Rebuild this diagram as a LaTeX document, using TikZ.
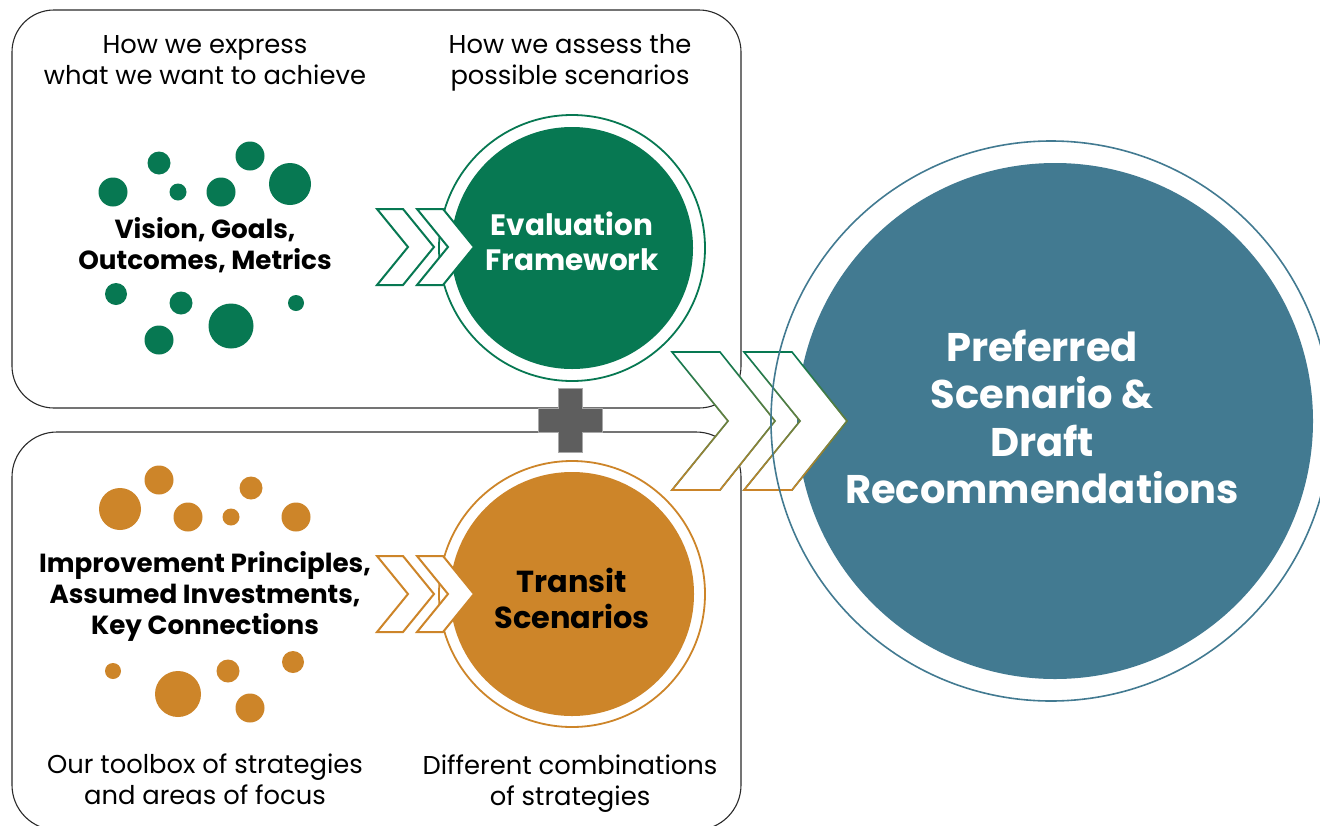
\documentclass[tikz,border=0pt]{standalone}
\usepackage{fontspec}
\setmainfont{Poppins}
\usetikzlibrary{fadings}
\definecolor{cgreen}{HTML}{077852}
\definecolor{corange}{HTML}{CD8529}
\definecolor{cblue}{HTML}{427A91}
\definecolor{plusgray}{HTML}{5E5E5E}
\definecolor{plusedge}{HTML}{A8A8A8}
\definecolor{boxcol}{HTML}{2A2A2A}
\tikzfading[name=fadeup, top color=transparent!100, bottom color=transparent!0]
\tikzset{
  boxline/.style={draw=boxcol, line width=1.1pt, fill=white},
  lighttext/.style={align=center, font=\fontsize{25.8}{31}\selectfont, text=black},
  boldtext/.style={align=center, font=\fontsize{26.2}{31}\selectfont\bfseries, text=black},
  smallchev/.pic={\path[pic actions] (0,-38) -- (26,-38) -- (57,0) -- (26,38) -- (0,38) -- (31,0) -- cycle;},
  bigchevshape/.pic={\path[pic actions] (0,-69) -- (48,-69) -- (103,0) -- (48,69) -- (0,69) -- (56,0) -- cycle;},
  chevgreen/.style={draw=cgreen, fill=white, line width=2pt, line join=miter},
  chevorange/.style={draw=corange, fill=white, line width=2pt, line join=miter},
}
\begin{document}
\begin{tikzpicture}[x=1pt,y=-1pt]
\useasboundingbox (0,0) rectangle (1320,825);
\clip (0,0) rectangle (1320,825);

% boxes
\draw[boxline, rounded corners=42pt] (12,10) rectangle (741,408);
\draw[boxline, rounded corners=45pt] (12,432) rectangle (741,830);

% green dots
\foreach \px/\py/\r in {113/192/14.5, 159/163/11.5, 178/192/8.5, 221/192/14.5, 250/156/14.5, 290/184/21,
  116/294/11, 181/303/11.5, 231/326/22.5, 159/340/14.5, 296/303/8}
  \fill[cgreen] (\px,\py) circle (\r pt);
% orange dots
\foreach \px/\py/\r in {120/509/21, 159/480/14.5, 188/517/14.5, 231/517/8.5, 251/488/11.5, 296/517/14.5,
  113/671/8, 178/694/23, 228/671/11.5, 250/708/14.5, 293/662/11}
  \fill[corange] (\px,\py) circle (\r pt);

% evaluation and transit circles
\node[circle, fill=cgreen, minimum size=242pt, inner sep=0pt] (evalc) at (572,248) {};
\draw[cgreen, line width=1.8pt] (evalc.center) circle (133pt);
\node[circle, fill=corange, minimum size=244pt, inner sep=0pt] (transc) at (572,594) {};
\draw[corange, line width=1.8pt] (transc.center) circle (133pt);

% small chevrons
\pic[chevgreen] at (377,247) {smallchev};
\pic[chevgreen] at (417,247) {smallchev};
\pic[chevorange] at (377,594) {smallchev};
\pic[chevorange] at (417,594) {smallchev};

% preferred circle
\node[circle, fill=cblue, minimum size=516pt, inner sep=0pt] (prefc) at (1055,421) {};

% big chevrons (green to orange stroke)
\foreach \cx in {672,744}{
  \pic[fill=white, draw=none] at (\cx,421) {bigchevshape};
  \pic[draw=cgreen, line width=1.6pt, line join=miter] at (\cx,421) {bigchevshape};
  \pic[draw=corange, line width=1.6pt, line join=miter, path fading=fadeup] at (\cx,421) {bigchevshape};
}
\draw[cblue, line width=1.6pt] (1051,421) circle (280pt);

% plus sign
\fill[plusgray, draw=plusedge, line width=0.8pt] (558,388) -- (582,388) -- (582,408) -- (602,408) -- (602,432)
  -- (582,432) -- (582,452) -- (558,452) -- (558,432) -- (538,432) -- (538,408) -- (558,408) -- cycle;

% texts
\node[lighttext] (texpress) at (205,60.5) {How we express\\what we want to achieve};
\node[lighttext] (tassess) at (570,63) {How we assess the\\possible scenarios};
\node[boldtext] (tvision) at (205,245) {Vision, Goals,\\Outcomes, Metrics};
\node[boldtext] (timprove) at (205,596.5) {Improvement Principles,\\Assumed Investments,\\Key Connections};
\node[lighttext] (ttoolbox) at (205,779.5) {Our toolbox of strategies\\and areas of focus};
\node[lighttext] (tcomb) at (570,784) {Different combinations\\of strategies};
\node[align=center, text=white, font=\fontsize{29.5}{35}\selectfont\bfseries] (teval) at (572,241) {Evaluation\\Framework};
\node[align=center, text=black, font=\fontsize{30.4}{36}\selectfont\bfseries] (ttrans) at (572,598) {Transit\\Scenarios};
\node[align=center, text=white, font=\fontsize{40}{47.4}\selectfont\bfseries] (tpref) at (1042,417) {Preferred\\Scenario \&\\Draft\\Recommendations};
\end{tikzpicture}
\end{document}
